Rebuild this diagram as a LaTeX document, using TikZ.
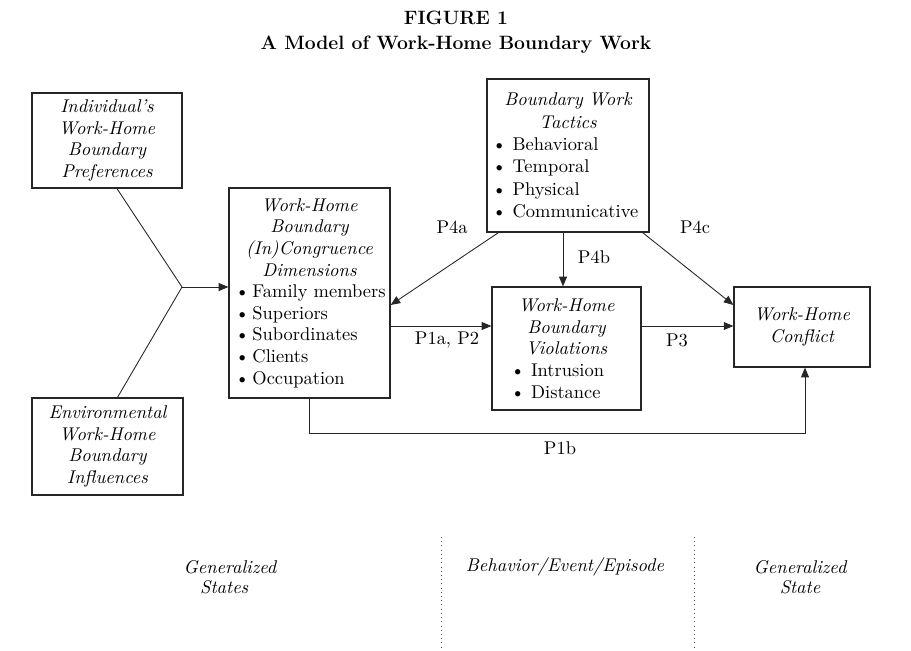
\documentclass[tikz,border=0pt]{standalone}
\usepackage{tikz}
\usetikzlibrary{arrows.meta,positioning}
\newcommand{\bul}{\textbullet~}

\begin{document}
\begin{tikzpicture}[x=0.02cm, y=-0.02cm,
  box/.style={draw=black!85, line width=0.7pt, font=\fontsize{10.5}{12.3}\selectfont,
              inner sep=0pt, align=center},
  lbl/.style={font=\fontsize{10.5}{12}\selectfont, inner sep=1pt},
  zone/.style={font=\fontsize{10.5}{11.5}\selectfont\itshape, align=center, inner sep=1pt},
  arr/.style={-{Triangle[length=5.5pt,width=4.5pt]}, black!85, line width=0.5pt},
  lin/.style={black!85, line width=0.5pt},
  sep/.style={black!70, dotted, line width=0.4pt}
]
\useasboundingbox (0,0) rectangle (911,650);
\node[font=\fontsize{11}{14}\selectfont\bfseries, align=center] (title) at (456,32)
  {FIGURE 1\\A Model of Work-Home Boundary Work};
\node[box, minimum width=3cm, minimum height=1.9cm, font=\fontsize{10.5}{12.3}\selectfont\itshape]
  (pref) at (107,140.5) {Individual's\\Work-Home\\Boundary\\Preferences};
\node[box, minimum width=3.02cm, minimum height=1.94cm, font=\fontsize{10.5}{12.3}\selectfont\itshape]
  (env) at (107.5,446.5) {Environmental\\Work-Home\\Boundary\\Influences};
\node[box, minimum width=3.22cm, minimum height=4.2cm, text width=3.12cm] (dims) at (309.5,293)
  {\centering\itshape Work-Home\\Boundary\\(In)Congruence\\Dimensions\par
   \raggedright\upshape\leftskip=2pt
   \textbullet\,Family~members\\\textbullet\,Superiors\\\textbullet\,Subordinates\\
   \textbullet\,Clients\\\textbullet\,Occupation\par};
\node[box, minimum width=3.24cm, minimum height=3.06cm, text width=3.14cm,
      font=\fontsize{10.5}{12.7}\selectfont] (tact) at (568,155.5)
  {\centering\itshape Boundary Work\\Tactics\par
   \raggedright\upshape\leftskip=1.5pt
   \bul Behavioral\\\bul Temporal\\\bul Physical\\\bul\mbox{Communicative}\par};
\node[box, minimum width=2.98cm, minimum height=2.46cm, text width=2.8cm] (viol) at (566.5,348.5)
  {\centering\itshape Work-Home\\Boundary\\Violations\par
   \raggedright\upshape\leftskip=8pt
   \bul Intrusion\\\bul Distance\par};
\node[box, minimum width=2.72cm, minimum height=1.6cm, font=\fontsize{10.5}{12.3}\selectfont\itshape]
  (conf) at (802,327) {Work-Home\\Conflict};

\coordinate (fork) at (182,287);
\coordinate (rowA) at (0,326);
\coordinate (rowB) at (0,305);
\coordinate (rowC) at (0,433);
\draw[lin] ([xshift=0.2cm]pref.south) -- (fork) -- ([xshift=0.2cm]env.north);
\draw[arr] (fork) -- (fork -| dims.west);
\draw[arr] (dims.east |- rowA) -- (viol.west |- rowA);
\draw[arr] (viol.east |- rowA) -- (conf.west |- rowA);
\draw[arr] ([xshift=-0.1cm]tact.south) -- ([xshift=-0.1cm]tact.south |- viol.north);
\draw[arr] ([xshift=0.24cm]tact.south west) -- (dims.east |- rowB);
\draw[arr] ([xshift=-0.14cm]tact.south east) -- (conf.west |- rowB);
\draw[arr] (dims.south) -- (dims.south |- rowC) -| ([xshift=0.06cm]conf.south);

\node[lbl] (p4a) at (452,227) {P4a};
\node[lbl] (p4b) at (594,257) {P4b};
\node[lbl] (p4c) at (695,227) {P4c};
\node[lbl] (p1a) at (447,340) {P1a, P2};
\node[lbl] (p3)  at (677,340) {P3};
\node[lbl] (p1b) at (560,448) {P1b};

\draw[sep] (441,537) -- (441,650);
\draw[sep] (694,537) -- (694,650);
\node[zone, align=left] (gstates) at (230,577) {Generalized\\\hspace*{0.9em}States};
\node[zone] (episode) at (565,567) {Behavior/Event/Episode};
\node[zone] (gstate)  at (800,577) {Generalized\\State};
\end{tikzpicture}
\end{document}
